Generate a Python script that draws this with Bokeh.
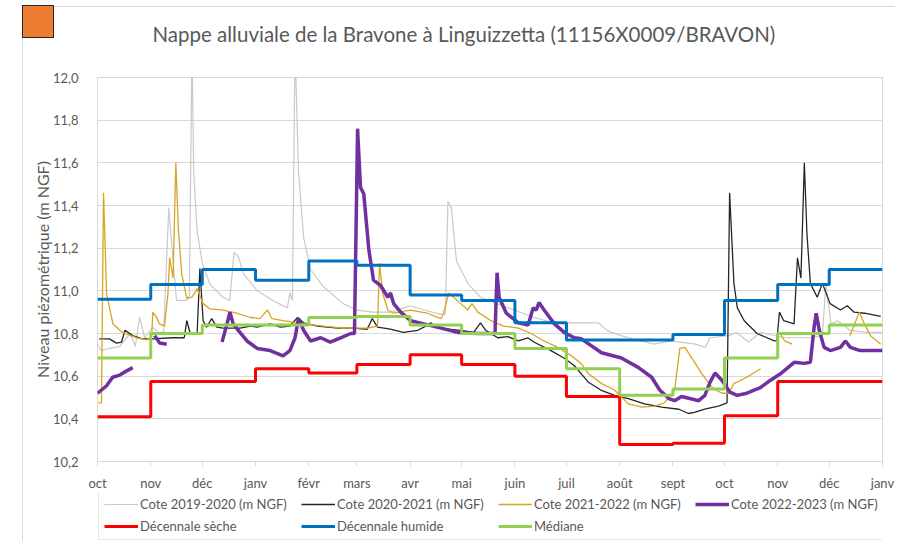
import math
from bokeh.plotting import figure
from bokeh.layouts import column
from bokeh.models import FixedTicker, Legend, LegendItem, Range1d, Title
from bokeh.embed import file_html
from bokeh.resources import INLINE

NAN = float("nan")
FONT = "Lato"
TXT = "#595959"
GRID = "#d9d9d9"

TITLE = "Nappe alluviale de la Bravone à Linguizzetta (11156X0009/BRAVON)"
Y_LABEL = "Niveau piézométrique (m NGF)"

# x = days since 1 October
MONTH_STARTS = [0, 31, 61, 92, 123, 151, 182, 212, 243, 273, 304, 335, 365, 396, 426, 457]
MONTH_LABELS = ["oct", "nov", "déc", "janv", "févr", "mars", "avr", "mai", "juin",
                "juil", "août", "sept", "oct", "nov", "déc", "janv"]
Y_TICKS = [10.2, 10.4, 10.6, 10.8, 11.0, 11.2, 11.4, 11.6, 11.8, 12.0]
Y_LABELS = ["10,2", "10,4", "10,6", "10,8", "11,0", "11,2", "11,4", "11,6", "11,8", "12,0"]

# Cote 2019-2020
g_d = [0, 2, 7, 13, 19, 22, 24.5, 27.5, 32, 36, 38.5, 41.5, 44, 46, 52, 53.5, 55, 56, 58, 61,
       65.5, 73, 77, 79.5, 82, 85, 93, 102, 110.5, 112, 113.5, 115, 117, 120, 124, 131.5, 143,
       151, 160, 171, 182, 190, 200, 202.5, 204, 206, 209, 216, 223, 231, 242.5, 254, 266,
       277.5, 291.5, 297.5, 305, 309, 324, 334, 348, 354, 356.5, 367.5, 372, 379, 386, 400,
       415, 422, 424, 427, 431, 438, 448, 457]
g_v = [10.75, 10.72, 10.73, 10.74, 10.80, 10.74, 10.875, 10.78, 10.83, 10.80, 10.81, 11.39,
       11.14, 10.955, 10.955, 10.98, 12.15, 11.56, 11.28, 11.13, 11.03, 10.97, 10.955, 11.18,
       11.16, 11.08, 11.00, 10.955, 10.92, 10.99, 10.955, 12.15, 11.56, 11.25, 11.10, 11.02,
       10.94, 10.91, 10.90, 10.90, 10.93, 10.91, 10.89, 10.89, 11.42, 11.39, 11.14, 11.03,
       10.97, 10.945, 10.91, 10.875, 10.85, 10.85, 10.85, 10.81, 10.79, 10.78, 10.75, 10.765,
       10.75, 10.735, 10.78, 10.79, 10.805, 10.76, 10.805, 10.78, 10.78, 10.79, 11.03, 10.845,
       10.86, 10.815, 10.805, 10.805]

# Cote 2020-2021
b_d = [1, 7, 11, 14, 16, 20.5, 26, 32, 44, 50.5, 52, 54, 58, 59.6, 61.5, 63.5, 66.5, 69.5, 73,
       83, 89, 93, 100.5, 106.5, 112, 116.5, 120, 128, 140, 149, 157, 160, 163, 170.5, 178,
       186.5, 190, 194, 198, 211.5, 219, 223, 226, 233, 239, 245, 250.5, 254, 264, 271.5,
       277.5, 286, 293, 301, 309, 318.5, 328.5, 338.5, 344, 347.5, 353.5, 361.5, 366.5, 368,
       370.5, 372.5, 376.5, 384, 394, 395.5, 397, 399.5, 405.5, 407.5, 409.5, 411.5, 413, 415,
       419, 422, 426.5, 432.5, 436.5, 440.5, 446.5, 456]
b_v = [10.775, 10.775, 10.755, 10.76, 10.815, 10.79, 10.775, 10.775, 10.78, 10.78,
       10.86, 10.80, 10.80, 11.105, 10.86, 10.83, 10.87, 10.83, 10.825, 10.825,
       10.835, 10.83, 10.845, 10.83, 10.835, 10.875, 10.85, 10.835, 10.825, 10.825,
       10.82, 10.87, 10.83, 10.82, 10.805, 10.815, 10.83, 10.85, 10.825, 10.815,
       10.805, 10.85, 10.815, 10.78, 10.785, 10.765, 10.78, 10.76, 10.72, 10.685,
       10.65, 10.57, 10.535, 10.51, 10.495, 10.47, 10.455, 10.445, 10.425, 10.43,
       10.445, 10.46, 10.475, 11.46, 11.035, 10.92, 10.86, 10.80, 10.765, 10.765,
       10.90, 10.86, 10.845, 11.155, 11.06, 11.60, 11.27, 11.035, 10.97, 11.035,
       10.94, 10.91, 10.93, 10.90, 10.895, 10.88]

# Cote 2021-2022
y_d = [0.5, 2.3, 3.5, 5.3, 9, 14.5, 23, 28.5, 31.5, 32.2, 34.5, 36, 39, 41, 42, 44, 45.6, 47,
       49, 52, 55, 58, 61.5, 65.5, 73, 81, 89, 94.5, 99, 101.5, 108, 120, 131.5, 143, 149, 157,
       163, 164.2, 166, 169, 172.5, 182, 192, 200, 201.5, 204.5, 211.5, 215.5, 218, 221.5, 229,
       236.5, 245, 252.5, 260, 268, 276, 281.5, 286, 293.5, 301, 309, 317, 324.5, 330, 336,
       339, 342, 346, 352, 358, 363.5, 367.5, 370.5, 378, 386, 386.5, 397.5, 400, 404.5, 405,
       438, 443.5, 446.5, 450, 456]
y_v = [10.475, 10.475, 11.46, 10.985, 10.845, 10.805, 10.78, 10.77, 10.78, 10.90,
       10.875, 10.845, 10.835, 10.985, 11.155, 11.06, 11.60, 11.30, 11.08, 10.965,
       10.97, 11.01, 10.94, 10.915, 10.91, 10.895, 10.875, 10.87, 10.91, 10.87,
       10.86, 10.845, 10.835, 10.825, 10.825, 10.825, 10.835, 11.13, 10.99, 10.91,
       10.895, 10.91, 10.895, 10.87, 10.895, 10.99, 10.94, 10.91, 10.94, 10.90,
       10.86, 10.835, 10.825, 10.80, 10.765, 10.735, 10.695, 10.66, 10.61, 10.565,
       10.535, 10.47, 10.455, 10.46, 10.475, 10.535, 10.73, 10.735, 10.685, 10.61,
       10.545, 10.52, 10.52, 10.565, 10.595, 10.635, NAN, 10.80, 10.765, 10.75,
       NAN, 10.79, 10.90, 10.845, 10.79, 10.75]

# Cote 2022-2023
p_d = [0, 5.3, 8.8, 13, 17, 20.5, 21, 33.3, 36.2, 40.3, 41, 72.5, 75.4, 77.1, 79, 82, 87, 93,
       100.5, 108, 112, 115, 117, 120, 124, 130, 135.5, 141.5, 147.5, 149.6, 151.4, 153.1, 155,
       158, 160.7, 164.8, 169, 170.6, 172.4, 176.5, 182.3, 190, 200, 210, 221.5, 229, 231.4,
       232.6, 233.8, 238, 245, 250.7, 253.6, 255.4, 257, 260, 266, 271.7, 277.6, 281.7, 293.4,
       305, 315, 322.6, 327.3, 332.6, 336, 340, 344.8, 350, 353.6, 356.5, 359.5, 363.6, 368.2,
       372.3, 378, 382.2, 385.7, 391.6, 397.4, 405.6, 411.4, 415, 417.2, 418.4, 420.2, 423,
       426.6, 432.5, 435.4, 438.3, 444, 457]
p_v = [10.52, 10.555, 10.595, 10.605, 10.625, 10.64, NAN, 10.79, 10.755, 10.75,
       NAN, 10.76, 10.845, 10.90, 10.845, 10.815, 10.765, 10.73, 10.72, 10.695,
       10.72, 10.78, 10.87, 10.815, 10.765, 10.78, 10.76, 10.78, 10.80, 10.80,
       11.76, 11.485, 11.455, 11.19, 11.05, 11.025, 10.97, 10.99, 10.94, 10.90,
       10.86, 10.845, 10.825, 10.805, 10.80, 10.80, 10.80, 11.085, 10.97, 10.895,
       10.85, 10.84, 10.92, 10.91, 10.945, 10.91, 10.845, 10.805, 10.78, 10.775,
       10.71, 10.685, 10.64, 10.595, 10.535, 10.495, 10.485, 10.505, 10.495, 10.485,
       10.51, 10.57, 10.615, 10.58, 10.525, 10.51, 10.52, 10.535, 10.545, 10.58,
       10.61, 10.665, 10.66, 10.665, 10.83, 10.895, 10.815, 10.735, 10.72, 10.735,
       10.765, 10.735, 10.72, 10.72]

# monthly reference levels (oct .. déc of following year)
dec_seche = [10.41, 10.575, 10.575, 10.635, 10.615, 10.655, 10.70, 10.655, 10.60, 10.505,
             10.28, 10.285, 10.415, 10.575, 10.575]
dec_humide = [10.96, 11.03, 11.10, 11.05, 11.14, 11.12, 10.98, 10.955, 10.85, 10.77,
              10.77, 10.795, 10.955, 11.03, 11.10]
mediane = [10.685, 10.80, 10.84, 10.84, 10.875, 10.88, 10.84, 10.80, 10.73, 10.635,
           10.51, 10.54, 10.685, 10.80, 10.84]

SERIES = [
    ("Cote 2019-2020 (m NGF)", "#c9c9c9", 1.2),
    ("Cote 2020-2021 (m NGF)", "#262626", 1.3),
    ("Cote 2021-2022 (m NGF)", "#D9A521", 1.3),
    ("Cote 2022-2023 (m NGF)", "#7030A0", 3.5),
    ("Décennale sèche", "#FF0000", 3),
    ("Décennale humide", "#0070C0", 3),
    ("Médiane", "#92D050", 3),
]

W, H = 895, 493
p = figure(width=W, height=H, x_range=Range1d(0, 457), y_range=Range1d(10.2, 12.0),
           output_backend="svg", toolbar_location=None, title=None,
           min_border_left=97, min_border_right=13, min_border_top=77, min_border_bottom=32)
p.background_fill_color = "white"
p.border_fill_alpha = 0
p.outline_line_color = GRID

# spacer then title, stacked above the frame
p.add_layout(Title(text=" ", text_font_size="1px", standoff=29), "above")
p.add_layout(Title(text=TITLE, align="left", offset=55, standoff=0, text_font=FONT,
                   text_font_size="20.5px", text_font_style="normal", text_color=TXT), "above")

# axes
p.xaxis.ticker = FixedTicker(ticks=MONTH_STARTS)
p.xaxis.major_label_overrides = {d: lab for d, lab in zip(MONTH_STARTS, MONTH_LABELS)}
p.xaxis.axis_line_color = GRID
p.xaxis.major_tick_line_color = GRID
p.xaxis.major_tick_out = 5
p.xaxis.major_tick_in = 0
p.xaxis.minor_tick_line_color = None
p.xaxis.major_label_standoff = 8
p.xaxis.major_label_text_font = FONT
p.xaxis.major_label_text_font_size = "13px"
p.xaxis.major_label_text_color = TXT

p.yaxis.ticker = FixedTicker(ticks=Y_TICKS)
p.yaxis.major_label_overrides = {t: lab for t, lab in zip(Y_TICKS, Y_LABELS)}
p.yaxis.axis_line_color = None
p.yaxis.major_tick_line_color = None
p.yaxis.minor_tick_line_color = None
p.yaxis.major_label_standoff = 13
p.yaxis.major_label_text_font = FONT
p.yaxis.major_label_text_font_size = "13px"
p.yaxis.major_label_text_color = TXT
p.yaxis.axis_label = Y_LABEL
p.yaxis.axis_label_text_font = FONT
p.yaxis.axis_label_text_font_size = "16px"
p.yaxis.axis_label_text_font_style = "normal"
p.yaxis.axis_label_text_color = TXT
p.yaxis.axis_label_standoff = -2

p.xgrid.grid_line_color = None
p.ygrid.grid_line_color = GRID
p.ygrid.grid_line_width = 1

def steps(vals):
    return vals + [vals[-1]]

(n1, c1, w1), (n2, c2, w2), (n3, c3, w3), (n4, c4, w4), (n5, c5, w5), (n6, c6, w6), (n7, c7, w7) = SERIES
p.line(g_d, g_v, line_color=c1, line_width=w1)
p.line(b_d, b_v, line_color=c2, line_width=w2)
p.line(y_d, y_v, line_color=c3, line_width=w3)
p.line(p_d, p_v, line_color=c4, line_width=w4)
p.step(MONTH_STARTS, steps(dec_seche), mode="after", line_color=c5, line_width=w5)
p.step(MONTH_STARTS, steps(dec_humide), mode="after", line_color=c6, line_width=w6)
p.step(MONTH_STARTS, steps(mediane), mode="after", line_color=c7, line_width=w7)

# legend strip (own canvas under the chart)
q = figure(width=W, height=48, x_range=Range1d(0, 1), y_range=Range1d(0, 1),
           output_backend="svg", toolbar_location=None, x_axis_type=None, y_axis_type=None,
           title=None, min_border_left=0, min_border_right=0, min_border_top=0, min_border_bottom=0)
q.outline_line_color = None
q.background_fill_alpha = 0
q.border_fill_alpha = 0
items = []
for name, col, lw in SERIES:
    r = q.line([NAN], [NAN], line_color=col, line_width=lw)
    items.append(LegendItem(label=name, renderers=[r]))
legend = Legend(items=items, orientation="horizontal", ncols=4, location=(1, 1),
                glyph_width=34, glyph_height=16, label_height=16, label_width=155,
                label_standoff=2, spacing=6, padding=5, margin=0,
                label_text_font=FONT, label_text_font_size="13px", label_text_color=TXT,
                border_line_color="#cfcfcf", border_line_width=1, background_fill_color="white")
q.add_layout(legend)

# chart-area frame and the orange marker, painted behind the transparent canvases
frame_css = {
    "background-image": ("linear-gradient(#ED7D31,#ED7D31), linear-gradient(#262626,#262626), "
                         "linear-gradient(#d9d9d9,#d9d9d9), linear-gradient(#d9d9d9,#d9d9d9)"),
    "background-size": "30px 31px, 32px 33px, 1px 600px, 900px 1px",
    "background-position": "23px 6px, 22px 5px, 22px 6px, 22px 6px",
    "background-repeat": "no-repeat",
    "background-color": "white",
}
layout = column(p, q, spacing=0, styles=frame_css)
open("out.html", "w").write(file_html(layout, INLINE))
